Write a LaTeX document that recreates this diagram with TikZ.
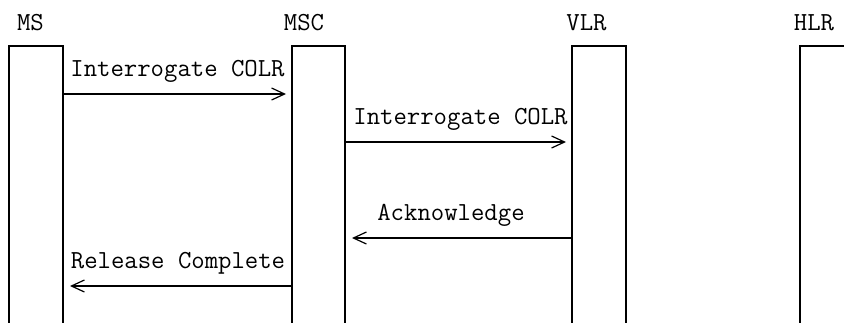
\documentclass[tikz,border=0pt]{standalone}
\usepackage{tikz}
\usetikzlibrary{arrows.meta,calc}
\tikzset{entity/.style={font=\ttfamily\fontsize{26}{30}\selectfont, anchor=base, inner sep=0pt}}
\tikzset{lifeline/.style={line width=1.3pt}}
\tikzset{msg/.style={line width=1.3pt, -{Straight Barb[length=13pt,width=12pt,line width=1.2pt]}}}
\tikzset{msglabel/.style={font=\ttfamily\fontsize{26}{30}\selectfont, inner sep=0pt, text depth=0pt, above=17pt}}

\begin{document}
\begin{tikzpicture}[x=1pt,y=-1pt]
%message sequence for the COLR interrogation, y runs downwards
\useasboundingbox (0,0) rectangle (844,322);
\node (ms) at (30.5,30)[entity]{MS};
\node (msc) at (304,30)[entity]{MSC};
\node (vlr) at (586.5,30)[entity]{VLR};
\node (hlr) at (814,30)[entity]{HLR};
% lifeline bars, open at the bottom
\draw[lifeline] (9,323) |- (63,46) -- (63,323);
\draw[lifeline] (292,323) |- (345,46) -- (345,323);
\draw[lifeline] (572,323) |- (626,46) -- (626,323);
\draw[lifeline] (800,323) |- (854,46) -- (854,323);
% message ends
\coordinate (ms1) at (63,94);
\coordinate (msc1) at (286,94);
\coordinate (msc2) at (345,142);
\coordinate (vlr2) at (566,142);
\coordinate (vlr3) at (572,238);
\coordinate (msc3) at (352,238);
\coordinate (msc4) at (292,286);
\coordinate (ms4) at (70,286);
\draw[msg] (ms1)--(msc1)node [pos=0.5, msglabel, xshift=3pt] {Interrogate COLR};
\draw[msg] (msc2)--(vlr2)node [pos=0.5, msglabel, xshift=5pt] {Interrogate COLR};
\draw[msg] (vlr3)--(msc3)node [pos=0.5, msglabel, xshift=-11pt] {Acknowledge};
\draw[msg] (msc4)--(ms4)node [pos=0.5, msglabel, xshift=-3pt] {Release Complete};
\end{tikzpicture}
\end{document}
